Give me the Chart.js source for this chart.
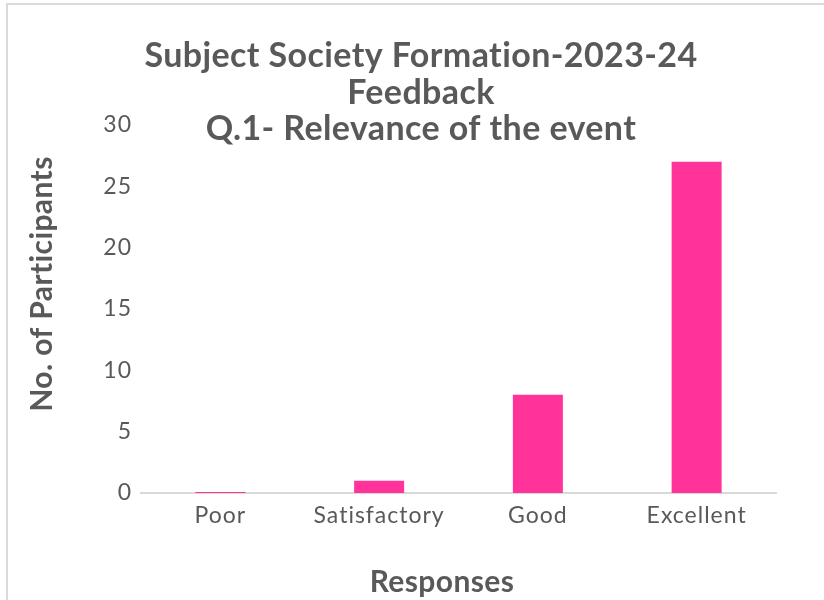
<!DOCTYPE html>
<html>
<head>
<meta charset="utf-8">
<script src="https://cdn.jsdelivr.net/npm/chart.js@4"></script>
<style>
  html, body { margin: 0; padding: 0; background: #fff; }
  #wrap { position: relative; width: 824px; height: 600px; }
  #frame { position: absolute; left: 6px; top: 3px; width: 830px; height: 620px; border-left: 2px solid #d9d9d9; border-top: 2px solid #d9d9d9; box-sizing: border-box; pointer-events: none; }
</style>
</head>
<body>
<div id="wrap">
  <canvas id="feedbackChart" width="824" height="600"></canvas>
  <div id="frame"></div>
</div>
<script>
// chart data
const responses = ['Poor', 'Satisfactory', 'Good', 'Excellent'];
const participants = [0, 1, 8, 27];
const titleLines = ['Subject Society Formation-2023-24', 'Feedback', 'Q.1- Relevance of the event'];
const yTitle = 'No. of Participants';
const xTitle = 'Responses';

const textGray = '#595959';

// Excel's tick text runs a little looser than Lato
const spacing = {
    id: 'spacing',
    beforeDraw(chart) {
        chart.ctx.letterSpacing = '1px';
    }
};

// titles drawn over the plot like Excel does
const overlayTitles = {
    id: 'overlayTitles',
    afterDraw(chart) {
        const c = chart.ctx;
        c.save();
        c.letterSpacing = '0.4px';
        c.fillStyle = textGray;
        c.textAlign = 'center';
        c.textBaseline = 'alphabetic';
        c.font = 'bold 34px Lato';
        titleLines.forEach((line, i) => {
            c.fillText(line, 421, 67 + i * 36.5);
        });

        c.font = 'bold 30px Lato';
        c.fillText(xTitle, 442, 592);

        c.translate(52, 284);
        c.rotate(-Math.PI / 2);
        c.fillText(yTitle, 0, 0);
        c.restore();
    }
};

const ctx = document.getElementById('feedbackChart').getContext('2d');

new Chart(ctx, {
    type: 'bar',
    data: {
        labels: responses,
        datasets: [{
            label: 'Participants',
            data: participants,
            backgroundColor: '#ff3399',
            categoryPercentage: 1,
            barPercentage: 0.315,
            minBarLength: 1
        }]
    },
    options: {
        responsive: false,
        animation: false,
        layout: {
            padding: { left: 0, right: 48, top: 125, bottom: 0 }
        },
        plugins: {
            legend: { display: false },
            title: { display: false },
            tooltip: { enabled: false }
        },
        scales: {
            x: {
                grid: { display: false },
                border: { display: true, color: '#d9d9d9', width: 2 },
                ticks: {
                    color: textGray,
                    font: { family: 'Lato', size: 23 },
                    padding: 1
                },
                afterFit(scale) { scale.height = 107; }
            },
            y: {
                min: 0,
                max: 30,
                grid: { display: false },
                border: { display: false },
                ticks: {
                    stepSize: 5,
                    color: textGray,
                    font: { family: 'Lato', size: 23 },
                    padding: 1
                },
                afterFit(scale) { scale.width = 141; }
            }
        }
    },
    plugins: [spacing, overlayTitles]
});
</script>
</body>
</html>
